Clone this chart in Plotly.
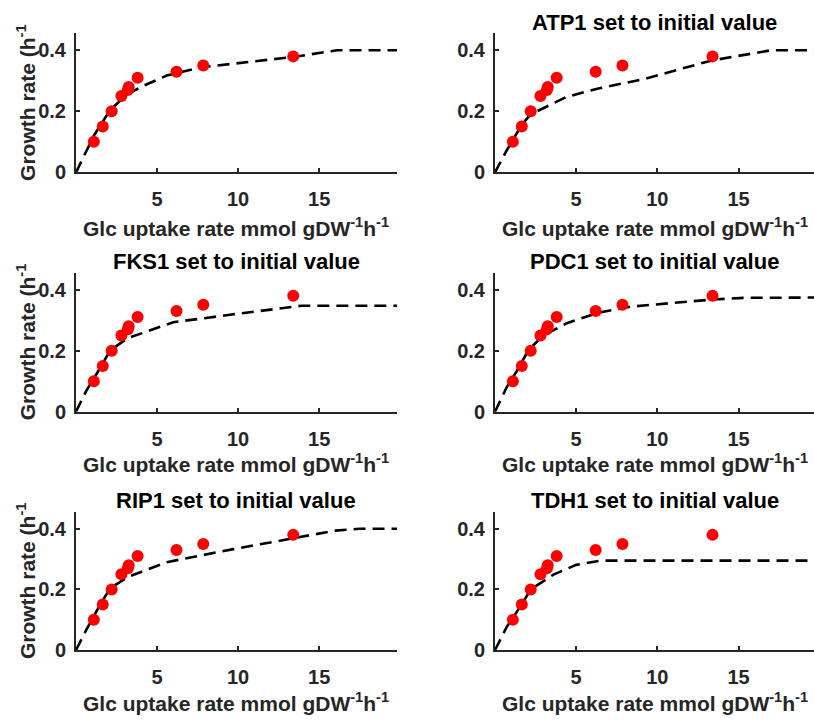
import plotly.graph_objects as go

# Measured chemostat data: glucose uptake vs. specific growth rate
glc_uptake = [1.1, 1.65, 2.2, 2.8, 3.2, 3.25, 3.8, 6.2, 7.85, 13.4]
growth_rate = [0.10, 0.15, 0.20, 0.25, 0.27, 0.28, 0.31, 0.33, 0.35, 0.38]

# Simulated growth curves (reference model and single-enzyme resets)
sim_ref_x = [0, 0.6, 1.1, 2.1, 3.1, 4.0, 5.6, 7.7, 10.0, 13.4, 16.1, 19.8]
sim_ref_y = [0, 0.068, 0.12, 0.204, 0.253, 0.28, 0.317, 0.344, 0.358, 0.378, 0.40, 0.40]

sim_atp1_x = [0, 0.7, 1.65, 2.2, 4.4, 6.3, 9.2, 13.3, 17.0, 19.8]
sim_atp1_y = [0, 0.07, 0.156, 0.19, 0.247, 0.274, 0.306, 0.366, 0.40, 0.40]

sim_fks1_x = [0, 0.64, 1.5, 2.1, 3.15, 6.0, 9.7, 13.9, 19.8]
sim_fks1_y = [0, 0.069, 0.144, 0.20, 0.24, 0.293, 0.319, 0.347, 0.347]

sim_pdc1_x = [0, 0.72, 1.34, 2.06, 2.98, 4.42, 6.27, 8.33, 13.27, 15.3, 19.8]
sim_pdc1_y = [0, 0.08, 0.133, 0.202, 0.25, 0.29, 0.323, 0.344, 0.367, 0.373, 0.374]

sim_rip1_x = [0, 0.64, 1.5, 2.1, 3.15, 5.6, 9.7, 13.4, 16.0, 17.5, 19.8]
sim_rip1_y = [0, 0.067, 0.151, 0.203, 0.24, 0.29, 0.333, 0.37, 0.394, 0.40, 0.40]

sim_tdh1_x = [0, 0.72, 1.65, 2.2, 3.6, 5.0, 6.5, 19.8]
sim_tdh1_y = [0, 0.076, 0.151, 0.20, 0.249, 0.281, 0.295, 0.295]

panel_titles = ["", "ATP1 set to initial value", "FKS1 set to initial value",
                "PDC1 set to initial value", "RIP1 set to initial value",
                "TDH1 set to initial value"]
sim_curves = [(sim_ref_x, sim_ref_y), (sim_atp1_x, sim_atp1_y),
              (sim_fks1_x, sim_fks1_y), (sim_pdc1_x, sim_pdc1_y),
              (sim_rip1_x, sim_rip1_y), (sim_tdh1_x, sim_tdh1_y)]

x_ticks = [5, 10, 15]
y_ticks = [0, 0.2, 0.4]
x_label = "Glc uptake rate mmol gDW<sup>-1</sup>h<sup>-1</sup>"
y_label = "Growth rate (h<sup>-1</sup>"

W, H = 814, 728
FONT = "Arial, Liberation Sans, sans-serif"
AXIS_COLOR = "#262626"

# Panel geometry in pixels: left/right column x extents, row y extents
col_px = [(76, 397), (495, 814)]
row_px = [(34, 175), (277, 418), (520, 660)]
title_y_px = [23, 266, 508]
xlabel_y_px = [230, 470, 713]
x_ranges = [[0, 19.8], [0, 19.65]]

fig = go.Figure()
annotations = []
layout_axes = {}

for i in range(6):
    r, c = divmod(i, 2)
    n = i + 1
    xa = "x" if n == 1 else f"x{n}"
    ya = "y" if n == 1 else f"y{n}"
    sx, sy = sim_curves[i]

    fig.add_trace(go.Scatter(
        x=sx, y=sy, mode="lines", xaxis=xa, yaxis=ya,
        line=dict(color="black", width=2.6, dash="12px,7px"),
        showlegend=False, hoverinfo="skip"))
    fig.add_trace(go.Scatter(
        x=glc_uptake, y=growth_rate, mode="markers", xaxis=xa, yaxis=ya,
        marker=dict(color="#FF0000", size=12, line=dict(width=0)),
        showlegend=False))

    x0, x1 = col_px[c]
    y0, y1 = row_px[r]
    xdom = [x0 / W, x1 / W]
    ydom = [1 - y1 / H, 1 - y0 / H]

    common = dict(showline=True, linecolor=AXIS_COLOR, linewidth=2,
                  ticks="inside", ticklen=4, tickwidth=1.5, tickcolor=AXIS_COLOR,
                  showgrid=False, zeroline=False, fixedrange=True,
                  tickfont=dict(family=FONT, size=20, color=AXIS_COLOR,
                                weight="bold"))
    layout_axes["xaxis" if n == 1 else f"xaxis{n}"] = dict(
        common, domain=xdom, range=x_ranges[c], tickvals=x_ticks,
        anchor=ya, ticklabelstandoff=8)
    layout_axes["yaxis" if n == 1 else f"yaxis{n}"] = dict(
        common, domain=ydom, range=[0, 0.455], tickvals=y_ticks,
        ticktext=["0", "0.2", "0.4"], anchor=xa, ticklabelstandoff=4)

    xc = (x0 + x1) / 2 / W
    if panel_titles[i]:
        annotations.append(dict(
            text=f"<b>{panel_titles[i]}</b>", x=xc, y=1 - title_y_px[r] / H,
            xref="paper", yref="paper", xanchor="center", yanchor="middle",
            showarrow=False,
            font=dict(family=FONT, size=22, color="black")))
    annotations.append(dict(
        text=f"<b>{x_label}</b>", x=xc, y=1 - xlabel_y_px[r] / H,
        xref="paper", yref="paper", xanchor="center", yanchor="middle",
        showarrow=False,
        font=dict(family=FONT, size=21, color=AXIS_COLOR)))
    if c == 0:
        annotations.append(dict(
            text=f"<b>{y_label}</b>", x=26 / W, y=1 - (y0 + y1) / 2 / H,
            xref="paper", yref="paper", xanchor="center", yanchor="middle",
            textangle=-90, showarrow=False,
            font=dict(family=FONT, size=21, color=AXIS_COLOR)))

fig.update_layout(
    width=W, height=H,
    margin=dict(l=0, r=0, t=0, b=0),
    paper_bgcolor="white", plot_bgcolor="white",
    annotations=annotations,
    **layout_axes)

fig.write_html("out.html")
